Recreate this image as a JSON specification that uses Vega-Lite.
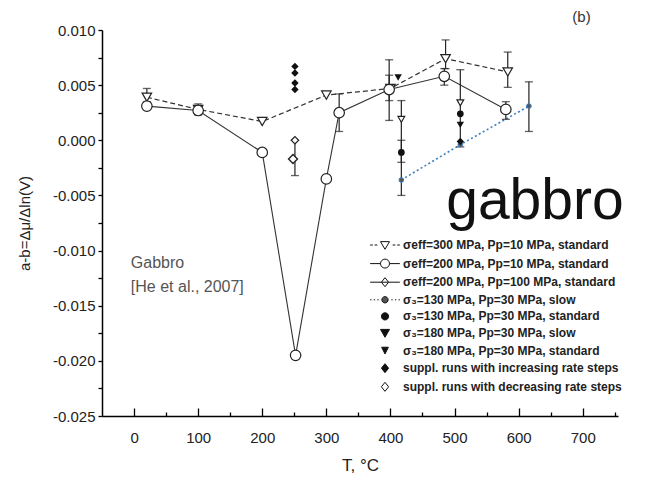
{
  "$schema": "https://vega.github.io/schema/vega-lite/v6.json",
  "width": 516,
  "height": 386,
  "autosize": "none",
  "padding": {"left": 102, "top": 30, "right": 44, "bottom": 72},
  "background": "white",
  "config": {"view": {"stroke": null}, "font": "Liberation Sans"},
  "datasets": {
    "pts": [
      {"k": 1, "series": "σeff=300 MPa, Pp=10 MPa, standard", "T": 20, "v": 0.0039},
      {"k": 1, "series": "σeff=300 MPa, Pp=10 MPa, standard", "T": 100, "v": 0.0028},
      {"k": 1, "series": "σeff=300 MPa, Pp=10 MPa, standard", "T": 200, "v": 0.0017},
      {"k": 1, "series": "σeff=300 MPa, Pp=10 MPa, standard", "T": 300, "v": 0.0041},
      {"k": 1, "series": "σeff=300 MPa, Pp=10 MPa, standard", "T": 400, "v": 0.0047},
      {"k": 1, "series": "σeff=300 MPa, Pp=10 MPa, standard", "T": 486, "v": 0.0074},
      {"k": 1, "series": "σeff=300 MPa, Pp=10 MPa, standard", "T": 583, "v": 0.0062},
      {"k": 2, "series": "σeff=200 MPa, Pp=10 MPa, standard", "T": 20, "v": 0.0031},
      {"k": 2, "series": "σeff=200 MPa, Pp=10 MPa, standard", "T": 100, "v": 0.0027},
      {"k": 2, "series": "σeff=200 MPa, Pp=10 MPa, standard", "T": 200, "v": -0.0011},
      {"k": 2, "series": "σeff=200 MPa, Pp=10 MPa, standard", "T": 252, "v": -0.0195},
      {"k": 2, "series": "σeff=200 MPa, Pp=10 MPa, standard", "T": 300, "v": -0.0035},
      {"k": 2, "series": "σeff=200 MPa, Pp=10 MPa, standard", "T": 320, "v": 0.0025},
      {"k": 2, "series": "σeff=200 MPa, Pp=10 MPa, standard", "T": 398, "v": 0.0046},
      {"k": 2, "series": "σeff=200 MPa, Pp=10 MPa, standard", "T": 484, "v": 0.0058},
      {"k": 2, "series": "σeff=200 MPa, Pp=10 MPa, standard", "T": 580, "v": 0.0028},
      {"k": 3, "series": "σeff=200 MPa, Pp=100 MPa, standard", "T": 248, "v": -0.0017},
      {"k": 4, "series": "σ₃=130 MPa, Pp=30 MPa, slow", "T": 417, "v": -0.0036},
      {"k": 4, "series": "σ₃=130 MPa, Pp=30 MPa, slow", "T": 509, "v": -0.0004},
      {"k": 4, "series": "σ₃=130 MPa, Pp=30 MPa, slow", "T": 616, "v": 0.0031},
      {"k": 5, "series": "σ₃=130 MPa, Pp=30 MPa, standard", "T": 417, "v": -0.0011},
      {"k": 5, "series": "σ₃=130 MPa, Pp=30 MPa, standard", "T": 509, "v": 0.0024},
      {"k": 6, "series": "σ₃=180 MPa, Pp=30 MPa, slow", "T": 412, "v": 0.0057},
      {"k": 6, "series": "σ₃=180 MPa, Pp=30 MPa, slow", "T": 509, "v": 0.0014},
      {"k": 7, "series": "σ₃=180 MPa, Pp=30 MPa, standard", "T": 417, "v": 0.0019},
      {"k": 7, "series": "σ₃=180 MPa, Pp=30 MPa, standard", "T": 509, "v": 0.0034},
      {"k": 8, "series": "suppl. runs with increasing rate steps", "T": 251, "v": 0.0067},
      {"k": 8, "series": "suppl. runs with increasing rate steps", "T": 251, "v": 0.0061},
      {"k": 8, "series": "suppl. runs with increasing rate steps", "T": 251, "v": 0.0052},
      {"k": 8, "series": "suppl. runs with increasing rate steps", "T": 251, "v": 0.0046},
      {"k": 8, "series": "suppl. runs with increasing rate steps", "T": 509, "v": -0.0001},
      {"k": 9, "series": "suppl. runs with decreasing rate steps", "T": 251, "v": 0.0}
    ],
    "errs": [
      {"T": 20, "lo": 0.0035, "hi": 0.0047},
      {"T": 100, "lo": 0.0023, "hi": 0.0033},
      {"T": 251, "lo": -0.0032, "hi": 0.0},
      {"T": 320, "lo": 0.0008, "hi": 0.0042},
      {"T": 398, "lo": 0.0018, "hi": 0.0073},
      {"T": 398, "lo": 0.0036, "hi": 0.0059},
      {"T": 417, "lo": -0.005, "hi": 0.0036},
      {"T": 417, "lo": -0.002, "hi": 0.0},
      {"T": 486, "lo": 0.0065, "hi": 0.0091},
      {"T": 484, "lo": 0.005, "hi": 0.0065},
      {"T": 509, "lo": -0.0006, "hi": 0.0064},
      {"T": 583, "lo": 0.0048, "hi": 0.008},
      {"T": 580, "lo": 0.0019, "hi": 0.0035},
      {"T": 616, "lo": 0.0008, "hi": 0.0053}
    ],
    "notes": [
      {"note": "gabbro", "kind": "big", "T": 487, "v": -0.0071},
      {"note": "Gabbro", "kind": "ref", "T": -5, "v": -0.0116},
      {"note": "[He et al., 2007]", "kind": "ref", "T": -5, "v": -0.0138},
      {"note": "(b)", "kind": "panel", "T": 698, "v": 0.0112}
    ]
  },
  "data": {"name": "pts"},
  "encoding": {
    "x": {
      "field": "T", "type": "quantitative",
      "scale": {"domain": [-50, 755], "nice": false, "zero": false},
      "axis": {
        "title": "T, °C", "titleFontSize": 17, "titleFontWeight": "normal", "titleColor": "#222", "titlePadding": 8,
        "values": [0, 50, 100, 150, 200, 250, 300, 350, 400, 450, 500, 550, 600, 650, 700, 750],
        "labelExpr": "datum.value % 100 == 0 ? datum.label : ''",
        "labelFontSize": 15, "labelColor": "#222", "labelPadding": 22,
        "tickSize": {"condition": {"test": "datum.value % 100 != 0", "value": -4}, "value": -8},
        "tickColor": "black", "tickWidth": 1.3, "domainColor": "black", "domainWidth": 1.5,
        "grid": false, "labelFlush": false, "labelOverlap": false
      }
    },
    "y": {
      "field": "v", "type": "quantitative",
      "scale": {"domain": [-0.025, 0.01], "nice": false, "zero": false},
      "axis": {
        "title": "a-b=Δμ/Δln(V)", "titleFontSize": 15, "titleFontWeight": "normal", "titleColor": "#222", "titlePadding": 20,
        "values": [-0.025, -0.0225, -0.02, -0.0175, -0.015, -0.0125, -0.01, -0.0075, -0.005, -0.0025, 0, 0.0025, 0.005, 0.0075, 0.01],
        "labelExpr": "round(datum.value*400) % 2 == 0 ? replace(format(datum.value, '.3f'), '−', '-') : ''",
        "labelFontSize": 15, "labelColor": "#222", "labelPadding": 3, "tickSize": 4,
        "tickColor": "black", "tickWidth": 1.3, "domainColor": "black", "domainWidth": 1.5,
        "grid": false, "labelFlush": false, "labelOverlap": false
      }
    }
  },
  "layer": [
    {
      "data": {"values": [{}]},
      "mark": {"type": "rule", "color": "#555", "strokeWidth": 1.3},
      "encoding": {"x": {"datum": -50}, "x2": {"datum": 752}, "y": {"datum": 0}}
    },
    {
      "transform": [{"filter": "datum.k == 1"}],
      "mark": {"type": "line", "color": "#333", "strokeWidth": 1.2, "strokeDash": [5, 3]}
    },
    {
      "transform": [{"filter": "datum.k == 2"}],
      "mark": {"type": "line", "color": "#333", "strokeWidth": 1.1}
    },
    {
      "transform": [{"filter": "datum.k == 4"}],
      "mark": {"type": "line", "color": "#3b7fc4", "strokeWidth": 1.6, "strokeDash": [2, 2.5]}
    },
    {
      "data": {"name": "errs"},
      "mark": {"type": "errorbar", "color": "#222", "ticks": {"size": 8, "thickness": 1.3, "color": "#222"}, "rule": {"strokeWidth": 1.2}},
      "encoding": {
        "x": {"field": "T", "type": "quantitative"},
        "y": {"field": "lo", "type": "quantitative"},
        "y2": {"field": "hi"}
      }
    },
    {
      "transform": [{"filter": "datum.k == 1"}],
      "mark": {"type": "point", "shape": "triangle-down", "filled": true, "fill": "white", "stroke": "#222", "strokeWidth": 1.2, "size": 90, "opacity": 1}
    },
    {
      "transform": [{"filter": "datum.k == 2"}],
      "mark": {"type": "point", "shape": "circle", "filled": true, "fill": "white", "stroke": "#222", "strokeWidth": 1.2, "size": 110, "opacity": 1}
    },
    {
      "transform": [{"filter": "datum.k == 3"}],
      "mark": {"type": "point", "shape": "diamond", "filled": true, "fill": "white", "stroke": "#222", "strokeWidth": 1.4, "size": 80, "opacity": 1}
    },
    {
      "transform": [{"filter": "datum.k == 4"}],
      "mark": {"type": "point", "shape": "circle", "filled": true, "fill": "#555", "stroke": "#3b7fc4", "strokeWidth": 1, "size": 22, "opacity": 1}
    },
    {
      "transform": [{"filter": "datum.k == 5"}],
      "mark": {"type": "point", "shape": "circle", "filled": true, "fill": "#111", "size": 45, "opacity": 1}
    },
    {
      "transform": [{"filter": "datum.k == 6"}],
      "mark": {"type": "point", "shape": "triangle-down", "filled": true, "fill": "#111", "size": 55, "opacity": 1}
    },
    {
      "transform": [{"filter": "datum.k == 7"}],
      "mark": {"type": "point", "shape": "triangle-down", "filled": true, "fill": "white", "stroke": "#222", "strokeWidth": 1.2, "size": 45, "opacity": 1}
    },
    {
      "transform": [{"filter": "datum.k == 8"}],
      "mark": {"type": "point", "shape": "diamond", "filled": true, "fill": "#111", "size": 55, "opacity": 1}
    },
    {
      "transform": [{"filter": "datum.k == 9"}],
      "mark": {"type": "point", "shape": "diamond", "filled": true, "fill": "white", "stroke": "#222", "strokeWidth": 1.2, "size": 55, "opacity": 1}
    },
    {
      "mark": {"type": "point", "filled": true, "opacity": 0},
      "encoding": {
        "shape": {
          "field": "series", "type": "nominal",
          "scale": {
            "domain": ["σeff=300 MPa, Pp=10 MPa, standard", "σeff=200 MPa, Pp=10 MPa, standard", "σeff=200 MPa, Pp=100 MPa, standard", "σ₃=130 MPa, Pp=30 MPa, slow", "σ₃=130 MPa, Pp=30 MPa, standard", "σ₃=180 MPa, Pp=30 MPa, slow", "σ₃=180 MPa, Pp=30 MPa, standard", "suppl. runs with increasing rate steps", "suppl. runs with decreasing rate steps"],
            "range": [
              "M-3.3,0H-2.7M-2.3,0H-1.7M1.7,0H2.3M2.7,0H3.3M-1,-0.75L1,-0.75L0,0.95Z",
              "M-3.3,0H-1M1,0H3.3M-1,0A1,1,0,1,1,1,0A1,1,0,1,1,-1,0Z",
              "M-3.3,0H3.3M0,-1L0.8,0L0,1L-0.8,0Z",
              "M-3.3,0H-3M-2.5,0H-2.2M-1.7,0H-1.4M1.4,0H1.7M2.2,0H2.5M3,0H3.3M-0.7,0A0.7,0.7,0,1,1,0.7,0A0.7,0.7,0,1,1,-0.7,0Z",
              "M-0.8,0A0.8,0.8,0,1,1,0.8,0A0.8,0.8,0,1,1,-0.8,0Z",
              "M-1,-0.8L1,-0.8L0,0.95Z",
              "M-0.75,-0.75L0.75,-0.75L0,0.75Z",
              "M0,-1L0.8,0L0,1L-0.8,0Z",
              "M0,-1L0.8,0L0,1L-0.8,0Z"
            ]
          },
          "legend": {"orient": "none", "legendX": 277, "legendY": 209, "title": null, "padding": 0, "symbolSize": 81, "symbolStrokeWidth": 1, "symbolStrokeColor": "#111", "symbolOpacity": 1, "labelFont": "Liberation Sans", "labelFontSize": 12, "labelFontWeight": "bold", "labelColor": "#222", "labelOffset": 12, "rowPadding": 4.6, "labelLimit": 400}
        },
        "fill": {
          "field": "series", "type": "nominal",
          "scale": {
            "domain": ["σeff=300 MPa, Pp=10 MPa, standard", "σeff=200 MPa, Pp=10 MPa, standard", "σeff=200 MPa, Pp=100 MPa, standard", "σ₃=130 MPa, Pp=30 MPa, slow", "σ₃=130 MPa, Pp=30 MPa, standard", "σ₃=180 MPa, Pp=30 MPa, slow", "σ₃=180 MPa, Pp=30 MPa, standard", "suppl. runs with increasing rate steps", "suppl. runs with decreasing rate steps"],
            "range": ["white", "white", "white", "#555", "#111", "#111", "#111", "#111", "white"]
          },
          "legend": {"orient": "none", "legendX": 277, "legendY": 209, "title": null, "padding": 0, "symbolSize": 81, "symbolStrokeWidth": 1, "symbolStrokeColor": "#111", "symbolOpacity": 1, "labelFont": "Liberation Sans", "labelFontSize": 12, "labelFontWeight": "bold", "labelColor": "#222", "labelOffset": 12, "rowPadding": 4.6, "labelLimit": 400}
        },
        "stroke": {
          "field": "series", "type": "nominal",
          "scale": {
            "domain": ["σeff=300 MPa, Pp=10 MPa, standard", "σeff=200 MPa, Pp=10 MPa, standard", "σeff=200 MPa, Pp=100 MPa, standard", "σ₃=130 MPa, Pp=30 MPa, slow", "σ₃=130 MPa, Pp=30 MPa, standard", "σ₃=180 MPa, Pp=30 MPa, slow", "σ₃=180 MPa, Pp=30 MPa, standard", "suppl. runs with increasing rate steps", "suppl. runs with decreasing rate steps"],
            "range": ["#111", "#111", "#111", "#111", "#111", "#111", "#111", "#111", "#111"]
          },
          "legend": {"orient": "none", "legendX": 277, "legendY": 209, "title": null, "padding": 0, "symbolSize": 81, "symbolStrokeWidth": 1, "symbolStrokeColor": "#111", "symbolOpacity": 1, "labelFont": "Liberation Sans", "labelFontSize": 12, "labelFontWeight": "bold", "labelColor": "#222", "labelOffset": 12, "rowPadding": 4.6, "labelLimit": 400}
        }
      }
    },
    {
      "data": {"name": "notes"},
      "transform": [{"filter": "datum.kind == 'big'"}],
      "mark": {"type": "text", "font": "Liberation Sans", "fontSize": 57, "align": "left", "baseline": "alphabetic", "color": "#111"},
      "encoding": {"text": {"field": "note"}}
    },
    {
      "data": {"name": "notes"},
      "transform": [{"filter": "datum.kind == 'ref'"}],
      "mark": {"type": "text", "font": "Liberation Sans", "fontSize": 16, "align": "left", "baseline": "alphabetic", "color": "#555"},
      "encoding": {"text": {"field": "note"}}
    },
    {
      "data": {"name": "notes"},
      "transform": [{"filter": "datum.kind == 'panel'"}],
      "mark": {"type": "text", "font": "Liberation Sans", "fontSize": 15, "align": "center", "baseline": "middle", "color": "#333"},
      "encoding": {"text": {"field": "note"}}
    }
  ]
}
